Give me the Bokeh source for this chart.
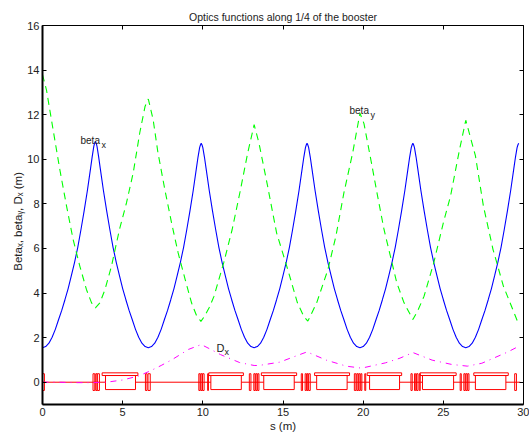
from bokeh.plotting import figure
from bokeh.models import LinearAxis, Range1d, Label, FixedTicker
from bokeh.embed import file_html
from bokeh.resources import INLINE

s_beta_x = [0,.2,.4,.6,.8,1,1.2,1.4,1.6,1.8,2,2.2,2.4,2.6,2.8,3,3.1,3.2,3.25,3.3,
            3.35,3.4,3.5,3.6,3.8,4,4.2,4.4,4.6,4.8,5,5.2,5.4,5.6,5.8,6,6.2,6.4,6.6,
            6.8,7,7.2,7.4,7.6,7.8,8,8.2,8.4,8.6,8.8,9,9.2,9.4,9.6,9.7,9.8,9.85,9.9,
            9.95,10,10.1,10.2,10.4,10.6,10.8,11,11.2,11.4,11.6,11.8,12,12.2,12.4,12.6,12.8,13,13.2,
            13.4,13.6,13.8,14,14.2,14.4,14.6,14.8,15,15.2,15.4,15.6,15.8,16,16.2,16.3,16.4,16.45,16.5,
            16.55,16.6,16.7,16.8,17,17.2,17.4,17.6,17.8,18,18.2,18.4,18.6,18.8,19,19.2,19.4,19.6,19.8,
            20,20.2,20.4,20.6,20.8,21,21.2,21.4,21.6,21.8,22,22.2,22.4,22.6,22.8,22.9,23,23.05,23.1,
            23.15,23.2,23.3,23.4,23.6,23.8,24,24.2,24.4,24.6,24.8,25,25.2,25.4,25.6,25.8,26,26.2,26.4,
            26.6,26.8,27,27.2,27.4,27.6,27.8,28,28.2,28.4,28.6,28.8,29,29.2,29.4,29.5,29.6,29.65,29.7]
beta_x = [1.55,1.6,1.75,2.02,2.37,2.8,3.22,3.7,4.2,4.78,5.38,6.05,6.85,7.7,8.6,9.6,10.12,10.58,10.72,10.8,
          10.72,10.58,10.12,9.6,8.6,7.7,6.85,6.05,5.38,4.78,4.2,3.7,3.22,2.8,2.37,2.02,1.75,1.6,1.55,
          1.6,1.75,2.02,2.37,2.8,3.22,3.7,4.2,4.78,5.38,6.05,6.85,7.7,8.6,9.6,10.1,10.52,10.64,10.72,
          10.64,10.52,10.1,9.6,8.6,7.7,6.85,6.05,5.38,4.78,4.2,3.7,3.22,2.8,2.37,2.02,1.75,1.6,1.55,
          1.6,1.75,2.02,2.37,2.8,3.22,3.7,4.2,4.78,5.38,6.05,6.85,7.7,8.6,9.6,10.1,10.52,10.64,10.72,
          10.64,10.52,10.1,9.6,8.6,7.7,6.85,6.05,5.38,4.78,4.2,3.7,3.22,2.8,2.37,2.02,1.75,1.6,1.55,
          1.6,1.75,2.02,2.37,2.8,3.22,3.7,4.2,4.78,5.38,6.05,6.85,7.7,8.6,9.6,10.1,10.52,10.64,10.72,
          10.64,10.52,10.1,9.6,8.6,7.7,6.85,6.05,5.38,4.78,4.2,3.7,3.22,2.8,2.37,2.02,1.75,1.6,1.55,
          1.6,1.75,2.02,2.37,2.8,3.22,3.7,4.2,4.78,5.38,6.05,6.85,7.7,8.6,9.6,10.1,10.52,10.64,10.72]

s_beta_y = [0,.25,.66,1.08,1.5,1.91,2.33,2.74,3.06,3.3,3.58,3.9,4.3,4.8,5.24,5.66,6.07,6.4,6.6,
            6.9,7.2,7.63,8.05,8.46,8.9,9.3,9.6,9.88,10.1,10.4,10.7,11.3,11.83,12.35,12.8,13.2,
            13.5,14,14.6,15.3,15.9,16.3,16.55,17.1,17.8,18.3,18.8,19.35,19.8,
            20.05,20.5,20.9,21.3,21.7,22.1,22.55,23.1,23.4,23.8,24.4,25,25.45,26,26.4,
            27,27.5,28.1,28.75,29.7]
beta_y = [13.8,13.1,11.33,9.54,7.9,6.4,5.2,4.16,3.56,3.33,3.56,4.16,5.2,6.85,8.05,9.4,11.2,12.38,12.7,
          11.78,10.3,8.64,7.15,5.8,4.6,3.55,3.0,2.73,2.95,3.35,3.86,5.35,6.85,8.64,10.29,11.55,
          10.73,8.94,6.7,5.05,3.56,2.95,2.74,3.56,5.05,6.55,8.5,10.3,12.07,
          11.6,9.9,8.35,6.85,5.65,4.45,3.56,2.81,3.2,3.86,5.35,7.15,8.35,10.4,11.75,
          10.16,7.9,5.95,4.3,2.6]

s_dx = [0,1,2,3,4,5,6,6.7,7.4,8.1,9.1,9.9,10.5,11.1,12.3,13.2,13.5,14.8,15.6,16.5,17.7,18.95,19.9,21.4,22.3,23.1,24.3,25.5,26.5,27.4,28.2,29,29.7]
dx = [0,0,-.02,-.02,0,.1,.28,.5,.75,1.02,1.47,1.69,1.47,1.24,.88,.75,.75,.9,1.12,1.36,.99,.72,.63,.87,1.08,1.33,.99,.8,.72,.85,1.1,1.35,1.61]

lattice_s = [0, 29.8]
lattice_y = [0, 0]
dip_left = [3.93,10.5,13.8,17.1,20.4,23.7,27.0]
dip_right = [5.8,12.4,15.7,19.0,22.27,25.64,28.9]
dip_bottom = [-.33]*7
dip_top = [.3]*7
cap_left = [3.72,10.37,13.65,16.97,20.25,23.55,26.9]
cap_right = [5.95,12.53,15.85,19.15,22.4,25.8,29.05]
cap_bottom = [.3]*7
cap_top = [.42]*7
mag_left = [0,3.15,3.32,3.42,6.42,6.58,9.75,9.87,9.98,10.3,12.9,13.18,13.3,13.42,16.14,16.38,16.5,16.6,19.45,19.6,19.72,19.85,20.1,22.98,23.2,23.33,23.5,26.05,26.28,26.4,26.52,29.45]
mag_right = [.12,3.26,3.4,3.55,6.52,6.72,9.83,9.95,10.08,10.35,13.0,13.26,13.38,13.5,16.22,16.46,16.56,16.7,19.55,19.68,19.8,19.92,20.16,23.06,23.28,23.42,23.56,26.12,26.36,26.48,26.6,29.56]
mag_bottom = [-.37]*32
mag_top = [.38]*32

x_ticks = [0,5,10,15,20,25,30]
y_ticks = [0,2,4,6,8,10,12,14,16]

FONT = "Liberation Sans"
INK = "#222222"
F_L, F_B = 42, 404

p = figure(width=529, height=434, output_backend="svg", toolbar_location=None,
           x_range=Range1d(0, 30), y_range=Range1d(-1, 16), tools="",
           min_border_left=F_L, min_border_right=6, min_border_top=25, min_border_bottom=30,
           title="Optics functions along 1/4 of the booster", x_axis_location=None, y_axis_location=None)
p.title.text_font = FONT
p.title.text_font_size = "10.5px"
p.title.text_font_style = "normal"
p.title.text_color = INK
p.title.align = "center"
p.title.text_line_height = 0.8
p.title.standoff = 5
p.grid.visible = False
p.outline_line_color = None
p.background_fill_color = "white"

def mk(ticks, labels, title=None, standoff=0):
    a = LinearAxis(ticker=FixedTicker(ticks=ticks))
    a.major_tick_in = 4
    a.major_tick_out = 0
    a.minor_tick_line_color = None
    a.major_tick_line_color = "black"
    a.axis_line_color = "black"
    if labels:
        a.major_label_text_font = FONT
        a.major_label_text_font_size = "11px"
        a.major_label_text_color = INK
        a.major_label_standoff = 3
        a.axis_line_width = 2
        a.axis_label = title
        a.axis_label_text_font = FONT
        a.axis_label_text_font_size = "11.5px"
        a.axis_label_text_font_style = "normal"
        a.axis_label_text_color = INK
        a.axis_label_standoff = standoff
    else:
        a.major_label_text_font_size = "0px"
        a.major_label_text_color = None
        a.major_label_standoff = 0
        a.axis_line_width = 1
    return a

p.add_layout(mk(x_ticks, True, "s (m)", 1), "below")
p.add_layout(mk(y_ticks, True, "Beta\u2093, beta\u1d67, D\u2093 (m)\u00a0\u00a0\u00a0\u00a0", 0), "left")
p.add_layout(mk(x_ticks, False), "above")
p.add_layout(mk(y_ticks, False), "right")

p.line(lattice_s, lattice_y, line_color="#ff0000", line_width=1)
for l, r, b, t in [(dip_left, dip_right, dip_bottom, dip_top),
                   (cap_left, cap_right, cap_bottom, cap_top)]:
    p.quad(left=l, right=r, bottom=b, top=t, fill_color="white", line_color="#ff0000", line_width=1)
p.quad(left=mag_left, right=mag_right, bottom=mag_bottom, top=mag_top, fill_color="white", fill_alpha=0,
       line_color="#ff0000", line_width=1)
p.line(s_beta_x, beta_x, line_color="#0000ff", line_width=1.1)
p.line(s_beta_y, beta_y, line_color="#00ff00", line_width=1.1, line_dash="7 5")
p.line(s_dx, dx, line_color="#ff00ff", line_width=1.0, line_dash="6 5 1 5")

def txt(t, px, py, size=10):
    p.add_layout(Label(x=px - F_L, y=F_B - py, x_units="screen", y_units="screen", text=t,
                       text_font=FONT, text_font_size=f"{size}px", text_color=INK,
                       text_baseline="alphabetic", text_align="left"))

txt("beta", 80, 140, 10)
txt("x", 101, 144, 9)
txt("beta", 349, 110, 10)
txt("y", 370, 114, 9)
txt("D", 216, 347, 11)
txt("x", 224, 351, 9)

open("out.html", "w").write(file_html(p, INLINE))
